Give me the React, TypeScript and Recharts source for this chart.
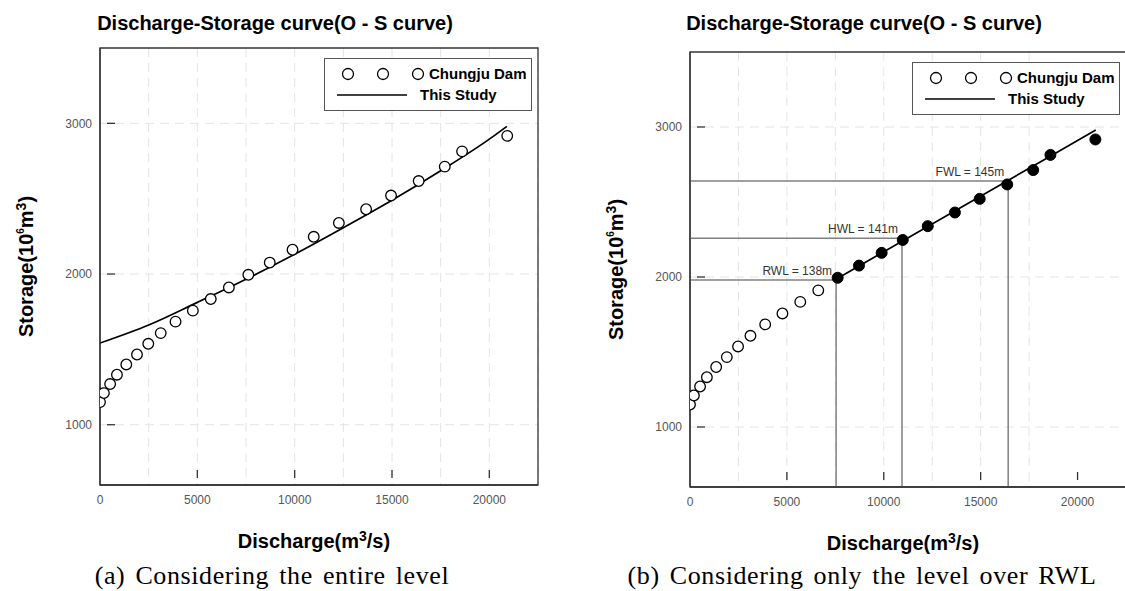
import React from "react";
import {
  ComposedChart,
  Scatter,
  Line,
  XAxis,
  YAxis,
  CartesianGrid,
  ReferenceArea,
  ReferenceLine,
  Legend,
} from "recharts";

// observed discharge-storage pairs, Chungju Dam
const discharge = [0, 200, 520, 870, 1350, 1900, 2480, 3120, 3880, 4770, 5690, 6620, 7620, 8720, 9890, 10980, 12270, 13670, 14950, 16370, 17710, 18600, 20920];
const storage = [1150, 1210, 1270, 1332, 1400, 1466, 1537, 1608, 1684, 1757, 1834, 1911, 1995, 2076, 2161, 2247, 2339, 2430, 2521, 2617, 2713, 2814, 2917];
const rwlIndex = 12; // first point at / above RWL

// "This Study" curve, entire level (a)
const fitDischargeA = [0, 2500, 5000, 7500, 10000, 12500, 15000, 17500, 20000, 20900];
const fitStorageA = [1542, 1662, 1812, 1966, 2131, 2307, 2489, 2685, 2895, 2980];

// "This Study" curve, level over RWL only (b)
const fitDischargeB = [7600, 14000, 20940];
const fitStorageB = [1990, 2465, 2980];

// water levels marked in (b)
const levelNames = ["RWL = 138m", "HWL = 141m", "FWL = 145m"];
const levelDischarge = [7540, 10940, 16420];
const levelStorage = [1980, 2259, 2640];

const xTicks = [0, 5000, 10000, 15000, 20000];
const yTicks = [1000, 2000, 3000];
const gridX = [2500, 5000, 7500, 10000, 12500, 15000, 17500, 20000, 22500];
const gridY = [1000, 2000, 3000];
const xDomain = [0, 22500];
const yDomain = [600, 3500];

const observed = discharge.map((x, i) => ({ x, y: storage[i] }));
const fitA = fitDischargeA.map((x, i) => ({ x, y: fitStorageA[i] }));
const fitB = fitDischargeB.map((x, i) => ({ x, y: fitStorageB[i] }));
const levels = levelNames.map((name, i) => ({ name, x: levelDischarge[i], y: levelStorage[i] }));

const AXIS = "#333";
const TICK_TEXT = "#555";
const GRID = "#e4e4e4";
const REF = "#808080";
const Y_MARGIN = 8;
const X_MARGIN = 10;

const YTick = (props: any) => {
  const { x, y, payload } = props;
  const axisX = x + Y_MARGIN;
  return (
    <g>
      <line x1={axisX + 7} x2={axisX + 15} y1={y} y2={y} stroke={AXIS} strokeWidth={1.3} />
      <text x={x} y={y} dy="0.355em" textAnchor="end" fontSize={12} fill={TICK_TEXT}>
        {payload.value}
      </text>
    </g>
  );
};

const XTick = (props: any) => {
  const { x, y, payload } = props;
  const axisY = y - X_MARGIN;
  return (
    <g>
      {payload.value !== 0 && (
        <line x1={x} x2={x} y1={axisY - 15} y2={axisY - 7} stroke={AXIS} strokeWidth={1.3} />
      )}
      <text x={x} y={y} dy="0.71em" textAnchor="middle" fontSize={12} fill={TICK_TEXT}>
        {payload.value}
      </text>
    </g>
  );
};

const XLabel = (props: any) => {
  const vb = props.viewBox || {};
  return (
    <text x={vb.x + vb.width / 2 - 5} y={vb.y + 63} textAnchor="middle" fontSize={20} fontWeight="bold" fill="#000">
      Discharge(m
      <tspan fontSize={14} dy={-7}>3</tspan>
      <tspan dy={7}>/s)</tspan>
    </text>
  );
};

const YLabel = (props: any) => {
  const vb = props.viewBox || {};
  const cx = vb.x + vb.width - 67;
  const cy = vb.y + vb.height / 2;
  return (
    <text x={cx} y={cy} transform={`rotate(-90 ${cx} ${cy})`} textAnchor="middle" fontSize={20} fontWeight="bold" fill="#000">
      Storage(10
      <tspan fontSize={10} dy={-9}>6</tspan>
      <tspan dy={9}>m</tspan>
      <tspan fontSize={14} dy={-7}>3</tspan>
      <tspan dy={7}>)</tspan>
    </text>
  );
};

const LegendBox = () => (
  <div style={{ width: 208, height: 53, border: "1px solid #555", background: "#fff", boxSizing: "border-box" }}>
    <svg width={206} height={51} style={{ display: "block", overflow: "visible" }}>
      {[23, 58, 93].map((cx) => (
        <circle key={cx} cx={cx} cy={15} r={5.5} fill="#fff" stroke="#000" strokeWidth={1.3} />
      ))}
      <text x={104} y={15} dy="0.35em" fontSize={15} fontWeight="bold" fill="#000">Chungju Dam</text>
      <line x1={12} x2={82} y1={36} y2={36} stroke="#000" strokeWidth={1.5} />
      <text x={95} y={36} dy="0.35em" fontSize={15} fontWeight="bold" fill="#000">This Study</text>
    </svg>
  </div>
);

const LevelLabel = (text: string) => (props: any) => {
  const vb = props.viewBox || {};
  return (
    <text x={vb.x + vb.width - 4} y={vb.y - 5} textAnchor="end" fontSize={12} fill="#333">
      {text}
    </text>
  );
};

type PanelProps = {
  variant: "a" | "b";
  width: number;
  margin: { top: number; right: number; bottom: number; left: number };
  legendLeft: number;
  legendTop: number;
};

function Panel({ variant, width, margin, legendLeft, legendTop }: PanelProps) {
  const openPts = variant === "a" ? observed : observed.slice(0, rwlIndex);
  const fullPts = variant === "a" ? [] : observed.slice(rwlIndex);
  return (
    <ComposedChart width={width} height={591} margin={margin}>
      <CartesianGrid
        stroke={GRID}
        strokeDasharray="9 6"
        verticalValues={gridX}
        horizontalValues={gridY}
      />
      <XAxis
        type="number"
        dataKey="x"
        domain={xDomain}
        ticks={xTicks}
        allowDataOverflow
        height={30}
        tickSize={0}
        tickMargin={X_MARGIN}
        tickLine={false}
        axisLine={{ stroke: AXIS, strokeWidth: 1.3 }}
        tick={(p: any) => <XTick {...p} />}
        label={{ content: (p: any) => <XLabel {...p} /> }}
      />
      <YAxis
        type="number"
        dataKey="y"
        domain={yDomain}
        ticks={yTicks}
        allowDataOverflow
        width={60}
        tickSize={0}
        tickMargin={Y_MARGIN}
        tickLine={false}
        axisLine={{ stroke: AXIS, strokeWidth: 1.3 }}
        tick={(p: any) => <YTick {...p} />}
        label={{ content: (p: any) => <YLabel {...p} /> }}
      />
      <ReferenceArea
        x1={xDomain[0]}
        x2={xDomain[1]}
        y1={yDomain[0]}
        y2={yDomain[1]}
        fill="none"
        stroke={AXIS}
        strokeWidth={1.3}
      />
      {variant === "b" &&
        levels.map((lv) => (
          <ReferenceLine
            key={lv.name + "h"}
            segment={[{ x: xDomain[0], y: lv.y }, { x: lv.x, y: lv.y }]}
            stroke={REF}
            strokeWidth={1.5}
            label={{ content: LevelLabel(lv.name) }}
          />
        ))}
      {variant === "b" &&
        levels.map((lv) => (
          <ReferenceLine
            key={lv.name + "v"}
            segment={[{ x: lv.x, y: yDomain[0] }, { x: lv.x, y: lv.y }]}
            stroke={REF}
            strokeWidth={1.5}
          />
        ))}
      <Scatter
        name="Chungju Dam"
        data={openPts}
        fill="#fff"
        stroke="#000"
        strokeWidth={1.3}
        shape={(p: any) => <circle cx={p.cx} cy={p.cy} r={5.3} fill="#fff" stroke="#000" strokeWidth={1.3} />}
        isAnimationActive={false}
      />
      {variant === "b" && (
        <Scatter
          name="Chungju Dam (over RWL)"
          data={fullPts}
          fill="#000"
          shape={(p: any) => <circle cx={p.cx} cy={p.cy} r={5.5} fill="#000" stroke="#000" strokeWidth={1} />}
          isAnimationActive={false}
        />
      )}
      <Line
        name="This Study"
        data={variant === "a" ? fitA : fitB}
        dataKey="y"
        type="monotone"
        stroke="#000"
        strokeWidth={1.7}
        dot={false}
        activeDot={false}
        isAnimationActive={false}
      />
      <Legend
        layout="vertical"
        align="center"
        verticalAlign="middle"
        content={() => <LegendBox />}
        wrapperStyle={{ left: legendLeft, top: legendTop, width: 208, height: 53 }}
      />
    </ComposedChart>
  );
}

export default function App() {
  return (
    <div
      style={{
        position: "absolute",
        left: 0,
        top: 0,
        width: 1125,
        height: 591,
        overflow: "hidden",
        background: "#fff",
        fontFamily: "'Liberation Sans', Arial, sans-serif",
      }}
    >
      <div style={{ position: "absolute", left: 0, top: 0 }}>
        <Panel
          variant="a"
          width={560}
          margin={{ top: 48, right: 22, bottom: 76, left: 40 }}
          legendLeft={324}
          legendTop={58}
        />
      </div>
      <div style={{ position: "absolute", left: 560, top: 0 }}>
        <Panel
          variant="b"
          width={580}
          margin={{ top: 52, right: 14, bottom: 74, left: 70 }}
          legendLeft={352}
          legendTop={62}
        />
      </div>
      <svg width={1125} height={591} style={{ position: "absolute", left: 0, top: 0, pointerEvents: "none" }}>
        <text x={275} y={30} textAnchor="middle" fontSize={20} fontWeight="bold" fill="#000">
          Discharge-Storage curve(O - S curve)
        </text>
        <text x={864} y={30} textAnchor="middle" fontSize={20} fontWeight="bold" fill="#000">
          Discharge-Storage curve(O - S curve)
        </text>
        <text x={272} y={584} textAnchor="middle" fontSize={26} fill="#000" style={{ fontFamily: "'Liberation Serif', serif" }} letterSpacing={0.6} wordSpacing={3}>
          (a) Considering the entire level
        </text>
        <text x={862} y={584} textAnchor="middle" fontSize={26} fill="#000" style={{ fontFamily: "'Liberation Serif', serif" }} letterSpacing={0.6} wordSpacing={3}>
          (b) Considering only the level over RWL
        </text>
      </svg>
    </div>
  );
}
